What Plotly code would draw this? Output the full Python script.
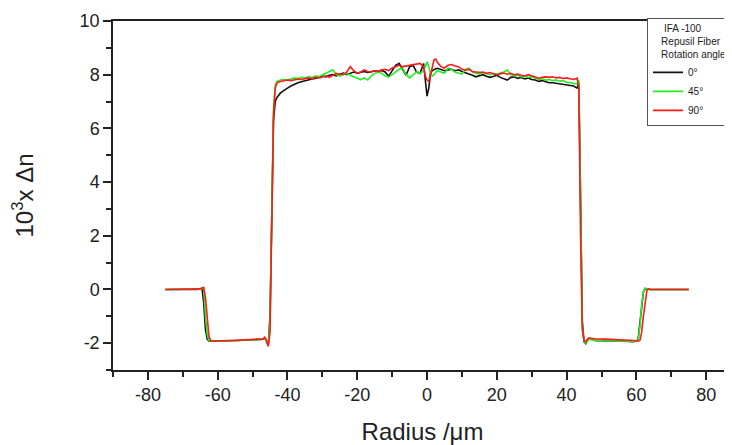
import plotly.graph_objects as go

# Radius grid (µm)
radius = [
    -75, -70, -66, -65, -64.5, -64, -63.5, -63, -62.5, -62, -61.5, -61, -60, -57, -54, -51, -48, -47, -46.5, -46, -45.5, -45, -44.5, -44, -43.5,
    -43, -42, -41, -40, -39, -38, -37, -36, -35, -34, -33, -32, -31, -30, -29, -28, -27, -26, -25, -24, -23, -22, -21, -20, -19, -18, -17, -16, -15, -14, -13, -12, -11, -10, -9, -8, -7, -6, -5, -4, -3, -2, -1,
    -0.5, 0, 0.5, 1, 1.5, 2, 2.5, 3,
    4, 5, 6, 7, 8, 9, 10, 11, 12, 13, 14, 15, 16, 17, 18, 19, 20, 21, 22, 23, 24, 25, 26, 27, 28, 29, 30, 31, 32, 33, 34, 35, 36, 37, 38, 39, 40, 41, 42,
    43,
    43.5, 44, 44.5, 45, 45.5, 46, 46.5, 47, 48, 51, 54, 57, 59, 59.5, 60, 60.5, 61, 61.5, 62, 62.5, 63, 63.5, 64, 65, 70, 75,
]

dn_0 = [
    0, 0, 0, 0.03, 0.05, -0.5, -1.5, -1.85, -1.92, -1.93, -1.93, -1.92, -1.92, -1.91, -1.9, -1.89, -1.87, -1.85, -1.8, -1.95, -2.08, -1.0, 3.0, 6.3, 7.0,
    7.15, 7.32, 7.42, 7.5, 7.58, 7.65, 7.7, 7.74, 7.78, 7.8, 7.84, 7.86, 7.9, 7.95, 7.92, 7.98, 8.0, 7.96, 8.02, 8.06, 8.0, 8.05, 8.1, 8.06, 8.1, 8.12, 8.08, 8.1, 8.14, 8.12, 8.16, 8.1, 7.94, 8.15, 8.35, 8.42, 8.2, 7.98, 8.3, 8.35, 8.1, 8.05, 8.42,
    7.9, 7.2, 7.5, 8.05, 8.15, 8.2, 8.22, 8.24,
    8.2, 8.15, 8.18, 8.2, 8.15, 8.18, 8.12, 8.08, 8.02, 7.98, 7.92, 7.95, 8.0, 7.94, 7.9, 7.93, 7.98, 7.9, 7.85, 7.8, 7.9, 7.92, 7.86, 7.9, 7.84, 7.88, 7.82, 7.8, 7.75, 7.78, 7.74, 7.7, 7.7, 7.68, 7.67, 7.65, 7.62, 7.6, 7.58,
    7.5,
    7.7, 3.5, -1.2, -1.95, -2.02, -1.9, -1.82, -1.85, -1.9, -1.92, -1.92, -1.93, -1.95, -1.95, -1.93, -1.85, -1.2, -0.5, -0.1, 0.03, 0.02, 0, 0, 0, 0, 0,
]

dn_45 = [
    0, 0, 0, 0.02, 0.05, 0.0, -1.0, -1.7, -1.9, -1.92, -1.93, -1.93, -1.92, -1.91, -1.9, -1.89, -1.87, -1.85, -1.82, -1.95, -2.05, -1.2, 3.0, 6.8, 7.6,
    7.75, 7.8, 7.82, 7.8, 7.85, 7.88, 7.86, 7.9, 7.88, 7.92, 7.9, 7.95, 7.93, 7.98, 8.05, 8.12, 8.18, 8.0, 7.95, 8.02, 8.05, 7.98, 7.92, 7.85, 7.82, 7.88, 7.8, 7.95, 8.05, 8.1, 8.05, 7.95, 7.92, 8.0, 8.1, 8.2, 8.24, 8.0, 7.88, 8.0, 8.1, 8.05, 8.15,
    8.3, 8.48, 8.3, 8.05, 7.95, 8.0, 8.1, 8.15,
    8.1, 8.05, 8.24, 8.2, 8.1, 8.05, 8.02, 8.2, 8.24, 8.1, 8.05, 8.02, 8.08, 8.04, 8.0, 8.04, 8.02, 8.06, 8.1, 8.17, 8.0, 7.95, 7.98, 7.92, 7.95, 7.9, 7.92, 7.88, 7.82, 7.85, 7.8, 7.82, 7.78, 7.8, 7.76, 7.78, 7.72, 7.7, 7.68,
    7.65,
    7.8, 3.0, -1.4, -1.95, -2.0, -1.92, -1.85, -1.86, -1.9, -1.92, -1.93, -1.93, -1.95, -1.95, -1.93, -1.88, -1.4, -0.6, -0.1, 0.05, 0.03, 0, 0, 0, 0, 0,
]

dn_90 = [
    0, 0, 0, 0.02, 0.05, 0.08, -0.3, -1.2, -1.75, -1.9, -1.93, -1.93, -1.92, -1.91, -1.9, -1.88, -1.86, -1.85, -1.78, -1.9, -2.12, -1.6, 2.5, 6.5, 7.5,
    7.7, 7.75, 7.78, 7.8, 7.78, 7.8, 7.84, 7.82, 7.85, 7.88, 7.85, 7.9, 7.88, 7.92, 7.95, 7.9, 7.98, 8.05, 8.02, 8.0, 8.1, 8.3, 8.15, 8.05, 8.1, 8.18, 8.12, 8.1, 8.15, 8.12, 8.18, 8.2, 8.15, 8.25, 8.3, 8.35, 8.3, 8.32, 8.35, 8.38, 8.4, 8.42, 8.3,
    7.95, 7.8, 7.75, 8.0, 8.35, 8.55, 8.58, 8.45,
    8.3, 8.25, 8.35, 8.38, 8.32, 8.3, 8.2, 8.17, 8.2, 8.12, 8.1, 8.08, 8.1, 8.05, 8.08, 8.05, 8.0, 8.04, 8.06, 8.02, 8.05, 8.0, 8.02, 7.98, 7.95, 8.0, 7.95, 7.9, 7.87, 7.9, 7.92, 7.9, 7.92, 7.88, 7.9, 7.86, 7.88, 7.85, 7.82,
    7.87,
    7.5, 2.0, -1.5, -1.9, -1.95, -1.85, -1.8, -1.82, -1.84, -1.85, -1.86, -1.87, -1.88, -1.9, -1.92, -1.93, -1.9, -1.6, -1.0, -0.4, -0.05, 0.02, 0, 0, 0, 0,
]

assert len(radius) == len(dn_0) == len(dn_45) == len(dn_90), (len(radius), len(dn_0), len(dn_45), len(dn_90))

series_names = ["0°", "45°", "90°"]
series_colors = ["#111111", "#22ee22", "#ff1a1a"]
legend_title = "&nbsp;&nbsp;&nbsp;&nbsp;&nbsp;IFA -100<br>&nbsp;&nbsp;&nbsp;&nbsp;Repusil Fiber<br>&nbsp;&nbsp;&nbsp;&nbsp;Rotation angle"

x_ticks = [-80, -60, -40, -20, 0, 20, 40, 60, 80]
y_ticks = [-2, 0, 2, 4, 6, 8, 10]

fig = go.Figure()
for name, vals, col in zip(series_names, [dn_0, dn_45, dn_90], series_colors):
    fig.add_trace(go.Scatter(x=radius, y=vals, mode="lines", name=name,
                             line=dict(color=col, width=1.6)))

font_family = "Liberation Sans, Arial, sans-serif"
fig.update_layout(
    width=724, height=437,
    margin=dict(l=105, r=0, t=13, b=75),
    paper_bgcolor="white", plot_bgcolor="white",
    font=dict(family=font_family, color="#222222"),
    showlegend=True,
    legend=dict(
        title=dict(text=legend_title, font=dict(size=10, family=font_family, color="#222")),
        font=dict(size=10, family=font_family, color="#222"),
        x=0.8627, y=1.009, xanchor="left", yanchor="top",
        bgcolor="white", bordercolor="#555555", borderwidth=1,
        tracegroupgap=0, itemwidth=30,
    ),
    xaxis=dict(
        range=[-90, 87.4], tickvals=x_ticks, ticktext=[str(v) for v in x_ticks],
        showgrid=False, zeroline=False,
        showline=True, linecolor="#222", linewidth=1.5, mirror=True,
        ticks="outside", ticklen=8, tickwidth=1.5, tickcolor="#222",
        minor=dict(dtick=10, tick0=0, ticks="outside", ticklen=5, tickwidth=1.5, tickcolor="#222"),
        tickfont=dict(size=18),
        title=dict(text="Radius /μm", font=dict(size=24), standoff=19),
    ),
    yaxis=dict(
        range=[-3, 10], tickvals=y_ticks, ticktext=[str(v) for v in y_ticks],
        showgrid=False, zeroline=False,
        showline=True, linecolor="#222", linewidth=1.5, mirror=False,
        ticks="outside", ticklen=8, tickwidth=1.5, tickcolor="#222",
        minor=dict(dtick=1, tick0=0, ticks="outside", ticklen=5, tickwidth=1.5, tickcolor="#222"),
        tickfont=dict(size=18),
        title=dict(text="10<sup>3</sup>x Δn", font=dict(size=24), standoff=44),
    ),
)

fig.write_html("out.html")
